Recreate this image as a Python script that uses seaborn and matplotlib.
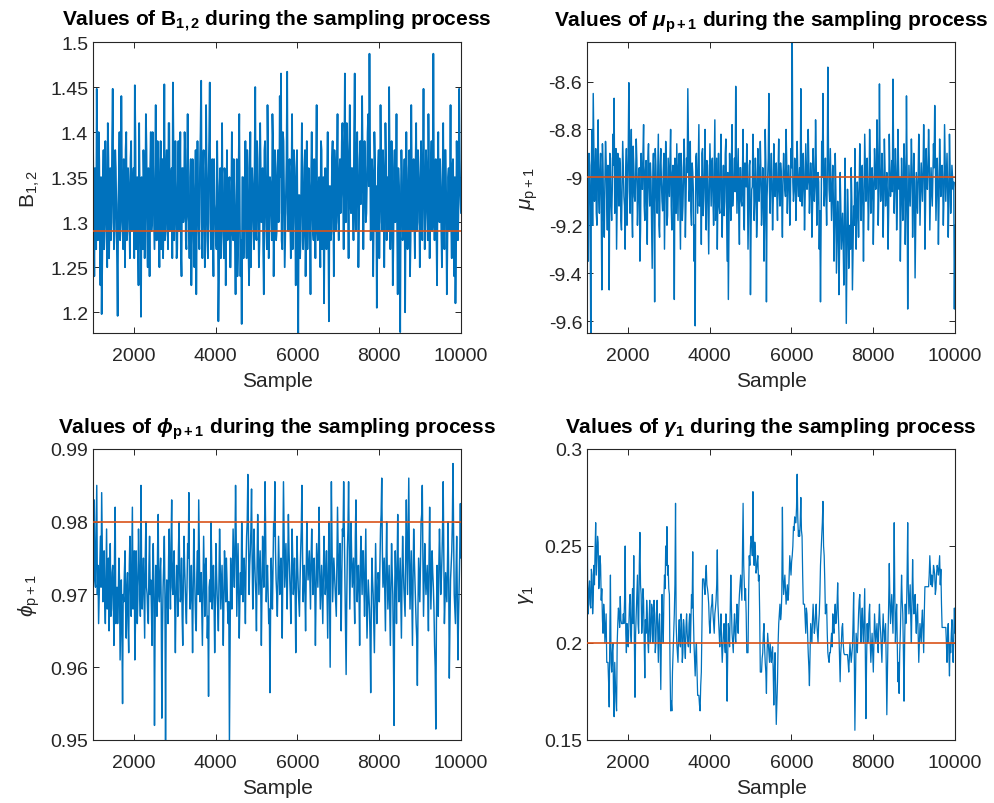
import numpy as np
import pandas as pd
import matplotlib
matplotlib.use("Agg")
import matplotlib.pyplot as plt
import seaborn as sns
from matplotlib.ticker import FuncFormatter

# ---------------- data ----------------
# each trace = main excursions (peaks / troughs) + in-between samples
b12_main = [
    1.38, 1.24, 1.35, 1.448, 1.28, 1.37, 1.23, 1.198, 1.34, 1.27,
    1.39, 1.29, 1.41, 1.26, 1.36, 1.30, 1.448, 1.27, 1.38, 1.31,
    1.196, 1.35, 1.28, 1.44, 1.30, 1.37, 1.25, 1.40, 1.29, 1.34,
    1.26, 1.39, 1.30, 1.36, 1.452, 1.27, 1.35, 1.23, 1.33, 1.195,
    1.31, 1.38, 1.26, 1.42, 1.29, 1.36, 1.24, 1.40, 1.30, 1.35,
    1.27, 1.43, 1.28, 1.37, 1.25, 1.39, 1.31, 1.26, 1.453, 1.29,
    1.38, 1.27, 1.41, 1.30, 1.36, 1.455, 1.28, 1.39, 1.26, 1.34,
    1.29, 1.40, 1.24, 1.36, 1.31, 1.38, 1.27, 1.42, 1.30, 1.35,
    1.23, 1.37, 1.28, 1.33, 1.22, 1.39, 1.29, 1.36, 1.457, 1.26,
    1.38, 1.25, 1.43, 1.30, 1.35, 1.455, 1.27, 1.37, 1.24, 1.32,
    1.28, 1.39, 1.19, 1.34, 1.26, 1.41, 1.29, 1.36, 1.23, 1.38,
    1.30, 1.35, 1.25, 1.40, 1.28, 1.33, 1.22, 1.37, 1.27, 1.42,
    1.24, 1.187, 1.35, 1.29, 1.39, 1.26, 1.36, 1.23, 1.40, 1.30,
    1.34, 1.27, 1.45, 1.28, 1.37, 1.25, 1.41, 1.30, 1.36, 1.22,
    1.39, 1.29, 1.43, 1.26, 1.35, 1.31, 1.42, 1.24, 1.38, 1.28,
    1.36, 1.30, 1.44, 1.465, 1.27, 1.39, 1.25, 1.33, 1.467, 1.29,
    1.37, 1.26, 1.42, 1.30, 1.35, 1.23, 1.38, 1.175, 1.33, 1.28,
    1.41, 1.27, 1.36, 1.24, 1.39, 1.30, 1.34, 1.22, 1.40, 1.29,
    1.37, 1.26, 1.43, 1.28, 1.35, 1.25, 1.38, 1.31, 1.21, 1.36,
    1.27, 1.40, 1.19, 1.34, 1.29, 1.39, 1.24, 1.36, 1.30, 1.42,
    1.28, 1.37, 1.33, 1.41, 1.27, 1.465, 1.30, 1.38, 1.26, 1.43,
    1.31, 1.36, 1.28, 1.465, 1.29, 1.40, 1.25, 1.37, 1.32, 1.44,
    1.27, 1.39, 1.30, 1.35, 1.42, 1.487, 1.28, 1.37, 1.24, 1.40,
    1.29, 1.205, 1.36, 1.26, 1.43, 1.30, 1.38, 1.25, 1.41, 1.28,
    1.35, 1.45, 1.27, 1.39, 1.23, 1.36, 1.30, 1.42, 1.22, 1.34,
    1.178, 1.38, 1.28, 1.33, 1.20, 1.40, 1.27, 1.36, 1.24, 1.43,
    1.29, 1.37, 1.26, 1.41, 1.30, 1.35, 1.25, 1.39, 1.28, 1.448,
    1.27, 1.38, 1.31, 1.42, 1.26, 1.36, 1.29, 1.487, 1.28, 1.37,
    1.23, 1.40, 1.30, 1.34, 1.25, 1.41, 1.27, 1.38, 1.22, 1.35,
    1.29, 1.43, 1.26, 1.37, 1.24, 1.21, 1.39, 1.28, 1.448, 1.33,
]
b12_between = [
    1.31, 1.36, 1.27, 1.33, 1.40, 1.29, 1.35, 1.26, 1.38, 1.30,
    1.34, 1.25, 1.37, 1.31, 1.28, 1.39, 1.33, 1.29, 1.36, 1.26,
    1.32, 1.40, 1.30, 1.35, 1.27, 1.33, 1.38, 1.28, 1.36, 1.31,
    1.37, 1.29, 1.34, 1.26, 1.39, 1.32, 1.28, 1.41, 1.30, 1.35,
    1.27, 1.34, 1.31, 1.38, 1.25, 1.33, 1.36, 1.29, 1.40, 1.31,
    1.35, 1.28, 1.39, 1.30, 1.34, 1.27, 1.37, 1.32, 1.28, 1.36,
    1.30, 1.41, 1.29, 1.35, 1.26, 1.38, 1.31, 1.34, 1.27, 1.39,
    1.33, 1.27, 1.36, 1.30, 1.40, 1.28, 1.35, 1.31, 1.26, 1.37,
    1.29, 1.34, 1.25, 1.38, 1.31, 1.33, 1.27, 1.40, 1.30, 1.36,
    1.32, 1.28, 1.35, 1.26, 1.39, 1.30, 1.34, 1.29, 1.37, 1.31,
    1.27, 1.33, 1.24, 1.36, 1.29, 1.31, 1.26, 1.35, 1.30, 1.28,
    1.34, 1.25, 1.32, 1.29, 1.37, 1.27, 1.31, 1.24, 1.36, 1.30,
    1.28, 1.35, 1.26, 1.33, 1.30, 1.38, 1.27, 1.32, 1.25, 1.36,
    1.30, 1.36, 1.29, 1.39, 1.31, 1.28, 1.35, 1.33, 1.27, 1.38,
    1.32, 1.27, 1.37, 1.30, 1.34, 1.28, 1.39, 1.31, 1.35, 1.29,
    1.38, 1.31, 1.35, 1.28, 1.40, 1.33, 1.29, 1.37, 1.31, 1.36,
    1.30, 1.34, 1.27, 1.38, 1.31, 1.36, 1.29, 1.33, 1.26, 1.35,
    1.33, 1.29, 1.38, 1.31, 1.27, 1.36, 1.30, 1.35, 1.32, 1.28,
    1.31, 1.36, 1.29, 1.34, 1.30, 1.39, 1.27, 1.35, 1.31, 1.33,
    1.35, 1.30, 1.34, 1.28, 1.37, 1.32, 1.38, 1.29, 1.36, 1.31,
    1.35, 1.31, 1.39, 1.33, 1.37, 1.30, 1.41, 1.34, 1.38, 1.32,
    1.36, 1.33, 1.40, 1.31, 1.38, 1.34, 1.30, 1.39, 1.35, 1.37,
    1.33, 1.36, 1.31, 1.40, 1.34, 1.38, 1.32, 1.35, 1.30, 1.37,
    1.34, 1.30, 1.38, 1.32, 1.36, 1.29, 1.35, 1.31, 1.37, 1.33,
    1.29, 1.36, 1.31, 1.34, 1.28, 1.38, 1.33, 1.30, 1.36, 1.27,
    1.32, 1.35, 1.29, 1.37, 1.31, 1.34, 1.30, 1.38, 1.28, 1.35,
    1.33, 1.30, 1.36, 1.29, 1.38, 1.32, 1.35, 1.31, 1.37, 1.34,
    1.31, 1.36, 1.28, 1.35, 1.32, 1.39, 1.30, 1.34, 1.36, 1.29,
    1.35, 1.31, 1.37, 1.29, 1.34, 1.30, 1.38, 1.32, 1.29, 1.36,
    1.33, 1.30, 1.36, 1.31, 1.35, 1.28, 1.34, 1.32, 1.37, 1.31,
]

mu_main = [
    -9.05, -9.35, -8.95, -9.70, -8.80, -8.65, -9.10, -8.88, -9.20, -8.76,
    -9.15, -8.90, -9.47, -8.98, -9.25, -8.85, -9.10, -8.95, -9.47, -8.92,
    -9.18, -8.82, -8.67, -9.05, -9.30, -8.90, -9.12, -8.96, -9.22, -8.85,
    -9.08, -9.30, -8.88, -9.02, -8.605, -9.15, -8.80, -9.25, -8.95, -9.10,
    -8.84, -9.20, -8.98, -9.35, -8.90, -9.05, -8.78, -9.18, -8.93, -9.28,
    -8.86, -9.12, -9.00, -9.38, -8.90, -9.52, -8.95, -9.15, -8.82, -9.25,
    -8.88, -9.10, -8.98, -9.30, -8.85, -9.20, -8.92, -9.08, -8.80, -9.22,
    -8.95, -9.51, -9.00, -8.86, -9.18, -8.90, -9.30, -8.96, -9.12, -8.84,
    -9.25, -8.92, -8.63, -9.10, -8.85, -9.20, -8.98, -9.35, -9.62, -8.90,
    -9.15, -8.78, -9.05, -9.28, -8.88, -9.10, -8.80, -9.22, -8.95, -9.32,
    -8.86, -9.12, -8.92, -9.20, -8.76, -9.05, -9.30, -8.90, -9.15, -8.82,
    -9.25, -8.95, -9.10, -8.84, -9.35, -9.51, -8.90, -9.18, -8.78, -9.05,
    -8.92, -8.62, -9.15, -8.88, -9.28, -8.96, -9.12, -8.80, -9.22, -9.00,
    -8.86, -9.30, -8.95, -9.49, -9.05, -8.82, -9.18, -8.92, -9.25, -8.88,
    -9.10, -8.85, -9.20, -8.96, -9.35, -8.80, -9.52, -9.00, -8.65, -9.15,
    -8.90, -9.22, -8.86, -9.08, -8.94, -9.18, -8.84, -9.12, -8.98, -9.25,
    -8.90, -9.05, -8.80, -9.15, -8.95, -9.20, -8.88, -8.435, -9.10, -8.92,
    -9.18, -8.85, -9.08, -8.96, -8.63, -9.12, -8.90, -9.22, -8.86, -9.05,
    -8.80, -9.15, -8.94, -9.25, -8.88, -9.10, -8.76, -9.20, -8.98, -9.30,
    -9.52, -8.85, -8.65, -9.12, -8.92, -9.20, -8.54, -9.05, -8.88, -9.18,
    -8.95, -9.35, -8.90, -9.40, -9.10, -9.49, -8.98, -9.30, -9.15, -9.45,
    -8.92, -9.61, -9.05, -9.38, -9.20, -8.96, -9.47, -9.12, -8.88, -9.30,
    -9.02, -9.25, -8.86, -9.18, -8.95, -9.35, -8.82, -9.10, -8.92, -9.22,
    -8.80, -9.15, -8.96, -9.28, -8.88, -9.05, -8.76, -9.20, -8.61, -9.10,
    -8.90, -9.25, -8.84, -9.12, -8.98, -9.30, -8.82, -9.08, -8.93, -8.59,
    -9.15, -8.88, -9.22, -8.80, -9.05, -9.35, -8.92, -9.18, -8.86, -9.28,
    -8.66, -9.55, -8.95, -9.12, -8.84, -9.25, -8.90, -9.42, -8.98, -9.15,
    -8.82, -9.20, -8.94, -9.10, -8.78, -9.30, -8.88, -9.05, -8.80, -9.22,
    -8.96, -9.12, -8.86, -8.70, -9.18, -8.92, -9.28, -8.84, -9.08, -8.95,
    -9.20, -8.78, -9.10, -8.90, -9.25, -8.82, -9.15, -8.95, -9.05, -9.55,
]
mu_between = [
    -9.00, -8.90, -9.12, -8.95, -9.20, -8.88, -9.05, -9.15, -8.92, -9.08,
    -8.97, -9.10, -8.86, -9.18, -9.02, -8.93, -9.22, -9.00, -8.90, -9.12,
    -9.05, -8.95, -9.15, -8.88, -9.10, -9.00, -8.92, -9.18, -9.03, -8.96,
    -9.12, -8.98, -9.20, -8.90, -9.06, -8.94, -9.14, -8.87, -9.08, -9.00,
    -8.93, -9.10, -8.96, -9.22, -9.02, -8.90, -9.12, -8.97, -9.16, -8.92,
    -9.04, -8.94, -9.18, -9.00, -9.10, -8.88, -9.08, -8.98, -9.20, -8.95,
    -9.02, -9.14, -8.90, -9.06, -8.96, -9.16, -9.00, -8.92, -9.12, -8.98,
    -9.08, -8.92, -9.15, -9.02, -8.95, -9.10, -8.90, -9.18, -9.00, -8.96,
    -9.10, -8.98, -8.88, -9.05, -9.14, -8.94, -9.06, -9.20, -8.92, -9.02,
    -8.96, -9.12, -9.00, -8.90, -9.16, -8.98, -9.08, -8.93, -9.14, -9.04,
    -9.00, -8.94, -9.10, -8.98, -9.18, -8.92, -9.06, -9.12, -8.96, -9.08,
    -9.04, -9.16, -8.90, -9.08, -8.98, -9.20, -9.02, -8.94, -9.12, -9.00,
    -9.06, -8.92, -9.02, -9.14, -8.96, -9.10, -8.98, -9.18, -8.94, -9.04,
    -9.00, -9.12, -8.93, -9.20, -9.04, -8.95, -9.10, -9.00, -9.16, -8.96,
    -9.02, -8.98, -9.12, -9.00, -9.18, -8.94, -9.08, -8.92, -9.06, -9.00,
    -9.04, -9.10, -8.96, -9.02, -9.08, -8.98, -9.06, -8.94, -9.10, -9.00,
    -8.98, -9.08, -8.94, -9.04, -9.00, -9.10, -8.96, -9.02, -9.06, -8.95,
    -9.06, -8.98, -9.02, -9.10, -8.92, -9.04, -9.00, -9.08, -8.96, -9.02,
    -8.95, -9.06, -9.00, -9.12, -8.98, -9.04, -8.92, -9.10, -9.02, -9.14,
    -9.20, -9.00, -8.96, -9.04, -9.08, -9.00, -8.90, -9.10, -9.02, -9.06,
    -9.10, -9.20, -9.05, -9.25, -9.18, -9.30, -9.12, -9.22, -9.28, -9.15,
    -9.20, -9.35, -9.15, -9.25, -9.30, -9.10, -9.28, -9.20, -9.05, -9.18,
    -9.10, -9.06, -8.98, -9.04, -9.12, -9.08, -8.96, -9.02, -9.06, -9.10,
    -8.94, -9.08, -9.02, -9.12, -8.98, -9.00, -8.92, -9.06, -8.96, -9.04,
    -9.00, -9.10, -8.96, -9.04, -9.08, -9.14, -8.98, -9.02, -9.06, -8.92,
    -9.04, -8.98, -9.10, -8.94, -9.00, -9.16, -9.02, -9.08, -8.96, -9.12,
    -8.98, -9.18, -9.04, -9.00, -8.96, -9.10, -9.02, -9.20, -9.06, -9.00,
    -8.96, -9.08, -9.02, -8.98, -8.94, -9.12, -9.00, -8.96, -8.92, -9.08,
    -9.04, -9.00, -8.96, -8.92, -9.06, -9.02, -9.10, -8.98, -8.96, -9.02,
    -9.08, -8.94, -9.00, -9.04, -9.10, -8.96, -9.06, -9.00, -9.02, -9.20,
]

phi_main = [
    0.968, 0.983, 0.971, 0.985, 0.974, 0.970, 0.978, 0.984, 0.969, 0.976,
    0.966, 0.979, 0.972, 0.965, 0.977, 0.968, 0.974, 0.963, 0.982, 0.970,
    0.966, 0.975, 0.961, 0.972, 0.955, 0.969, 0.976, 0.964, 0.973, 0.962,
    0.978, 0.967, 0.982, 0.970, 0.961, 0.976, 0.966, 0.979, 0.971, 0.985,
    0.968, 0.975, 0.964, 0.980, 0.970, 0.966, 0.978, 0.972, 0.963, 0.977,
    0.952, 0.974, 0.967, 0.981, 0.969, 0.975, 0.953, 0.971, 0.978, 0.950,
    0.972, 0.966, 0.979, 0.968, 0.983, 0.970, 0.976, 0.962, 0.974, 0.967,
    0.980, 0.969, 0.975, 0.963, 0.978, 0.971, 0.966, 0.977, 0.984, 0.968,
    0.974, 0.962, 0.979, 0.970, 0.965, 0.976, 0.983, 0.969, 0.973, 0.963,
    0.978, 0.967, 0.975, 0.964, 0.956, 0.972, 0.980, 0.968, 0.974, 0.962,
    0.977, 0.970, 0.965, 0.979, 0.968, 0.974, 0.963, 0.976, 0.969, 0.972,
    0.966, 0.950, 0.975, 0.968, 0.979, 0.971, 0.985, 0.967, 0.977, 0.964,
    0.973, 0.980, 0.969, 0.975, 0.966, 0.978, 0.9865, 0.970, 0.976, 0.9845,
    0.968, 0.979, 0.972, 0.965, 0.981, 0.970, 0.976, 0.963, 0.978, 0.971,
    0.9855, 0.969, 0.974, 0.966, 0.9565, 0.975, 0.968, 0.980, 0.9855, 0.972,
    0.967, 0.978, 0.970, 0.975, 0.964, 0.9855, 0.971, 0.977, 0.968, 0.981,
    0.973, 0.966, 0.979, 0.970, 0.975, 0.962, 0.978, 0.971, 0.967, 0.976,
    0.985, 0.969, 0.974, 0.965, 0.980, 0.972, 0.976, 0.968, 0.979, 0.970,
    0.975, 0.963, 0.977, 0.971, 0.982, 0.968, 0.974, 0.966, 0.978, 0.970,
    0.976, 0.964, 0.980, 0.960, 0.9855, 0.969, 0.975, 0.971, 0.967, 0.982,
    0.970, 0.977, 0.965, 0.979, 0.9855, 0.972, 0.959, 0.976, 0.9855, 0.968,
    0.980, 0.971, 0.975, 0.966, 0.983, 0.969, 0.974, 0.963, 0.978, 0.970,
    0.976, 0.967, 0.979, 0.964, 0.972, 0.968, 0.9565, 0.975, 0.970, 0.962,
    0.977, 0.966, 0.973, 0.969, 0.979, 0.986, 0.971, 0.975, 0.965, 0.980,
    0.968, 0.974, 0.963, 0.977, 0.970, 0.952, 0.976, 0.966, 0.981, 0.969,
    0.975, 0.964, 0.978, 0.971, 0.967, 0.983, 0.970, 0.986, 0.968, 0.976,
    0.963, 0.979, 0.972, 0.966, 0.9575, 0.975, 0.969, 0.980, 0.985, 0.967,
    0.977, 0.970, 0.974, 0.965, 0.982, 0.968, 0.976, 0.971, 0.963, 0.9515,
    0.974, 0.967, 0.979, 0.970, 0.975, 0.9855, 0.966, 0.973, 0.969, 0.980,
    0.9585, 0.972, 0.976, 0.988, 0.970, 0.966, 0.978, 0.961, 0.971, 0.9825,
]
phi_between = [
    0.975, 0.972, 0.978, 0.970, 0.966, 0.974, 0.971, 0.977, 0.973, 0.969,
    0.972, 0.968, 0.975, 0.970, 0.967, 0.973, 0.969, 0.976, 0.966, 0.971,
    0.969, 0.972, 0.967, 0.965, 0.970, 0.973, 0.968, 0.971, 0.966, 0.974,
    0.971, 0.974, 0.968, 0.976, 0.966, 0.972, 0.970, 0.974, 0.967, 0.973,
    0.972, 0.969, 0.975, 0.971, 0.967, 0.974, 0.970, 0.968, 0.973, 0.970,
    0.966, 0.972, 0.976, 0.970, 0.973, 0.968, 0.965, 0.974, 0.970, 0.968,
    0.970, 0.975, 0.972, 0.977, 0.971, 0.974, 0.968, 0.970, 0.972, 0.976,
    0.973, 0.970, 0.967, 0.972, 0.974, 0.968, 0.972, 0.975, 0.971, 0.970,
    0.969, 0.971, 0.974, 0.966, 0.973, 0.970, 0.976, 0.972, 0.968, 0.971,
    0.972, 0.974, 0.970, 0.967, 0.971, 0.969, 0.975, 0.972, 0.969, 0.968,
    0.973, 0.968, 0.972, 0.974, 0.971, 0.969, 0.970, 0.973, 0.975, 0.968,
    0.969, 0.962, 0.971, 0.973, 0.975, 0.976, 0.978, 0.972, 0.970, 0.969,
    0.970, 0.976, 0.973, 0.971, 0.974, 0.980, 0.978, 0.974, 0.979, 0.975,
    0.973, 0.975, 0.970, 0.974, 0.976, 0.973, 0.971, 0.970, 0.975, 0.977,
    0.978, 0.973, 0.970, 0.968, 0.968, 0.971, 0.974, 0.978, 0.976, 0.970,
    0.972, 0.974, 0.973, 0.971, 0.975, 0.978, 0.974, 0.972, 0.975, 0.976,
    0.970, 0.973, 0.975, 0.972, 0.970, 0.971, 0.974, 0.969, 0.972, 0.979,
    0.976, 0.972, 0.970, 0.973, 0.975, 0.974, 0.972, 0.975, 0.974, 0.973,
    0.971, 0.970, 0.974, 0.976, 0.973, 0.971, 0.970, 0.973, 0.974, 0.972,
    0.970, 0.973, 0.970, 0.975, 0.977, 0.972, 0.973, 0.969, 0.975, 0.976,
    0.974, 0.971, 0.973, 0.978, 0.979, 0.967, 0.969, 0.979, 0.976, 0.974,
    0.975, 0.973, 0.970, 0.978, 0.975, 0.972, 0.970, 0.973, 0.974, 0.976,
    0.971, 0.973, 0.970, 0.968, 0.970, 0.964, 0.968, 0.972, 0.966, 0.970,
    0.971, 0.969, 0.972, 0.974, 0.981, 0.976, 0.973, 0.970, 0.974, 0.973,
    0.971, 0.968, 0.971, 0.973, 0.962, 0.970, 0.972, 0.974, 0.973, 0.972,
    0.969, 0.972, 0.974, 0.969, 0.976, 0.977, 0.978, 0.975, 0.972, 0.970,
    0.972, 0.975, 0.969, 0.964, 0.968, 0.972, 0.974, 0.981, 0.975, 0.972,
    0.973, 0.972, 0.970, 0.975, 0.974, 0.972, 0.973, 0.968, 0.960, 0.966,
    0.970, 0.974, 0.975, 0.972, 0.979, 0.975, 0.969, 0.971, 0.974, 0.972,
    0.966, 0.974, 0.980, 0.978, 0.968, 0.973, 0.970, 0.967, 0.976, 0.975,
]

gamma_main = [
    0.281, 0.215, 0.232, 0.218, 0.235, 0.222, 0.230, 0.262, 0.245, 0.252,
    0.232, 0.240, 0.228, 0.205, 0.215, 0.208, 0.190, 0.190, 0.167, 0.235,
    0.185, 0.200, 0.162, 0.180, 0.165, 0.210, 0.215, 0.224, 0.210, 0.210,
    0.210, 0.250, 0.195, 0.205, 0.210, 0.225, 0.200, 0.228, 0.245, 0.172,
    0.215, 0.235, 0.205, 0.257, 0.225, 0.212, 0.222, 0.182, 0.205, 0.215,
    0.195, 0.222, 0.205, 0.218, 0.210, 0.215, 0.200, 0.222, 0.190, 0.215,
    0.176, 0.225, 0.200, 0.235, 0.250, 0.260, 0.240, 0.225, 0.165, 0.165,
    0.195, 0.215, 0.272, 0.200, 0.190, 0.212, 0.198, 0.210, 0.195, 0.208,
    0.192, 0.215, 0.200, 0.210, 0.195, 0.225, 0.247, 0.200, 0.183, 0.200,
    0.173, 0.173, 0.165, 0.185, 0.233, 0.233, 0.225, 0.240, 0.228, 0.220,
    0.205, 0.218, 0.225, 0.210, 0.215, 0.222, 0.248, 0.212, 0.198, 0.215,
    0.190, 0.205, 0.200, 0.215, 0.170, 0.210, 0.198, 0.235, 0.205, 0.195,
    0.215, 0.200, 0.220, 0.205, 0.225, 0.235, 0.222, 0.272, 0.230, 0.228,
    0.195, 0.195, 0.245, 0.250, 0.252, 0.278, 0.240, 0.248, 0.238, 0.245,
    0.235, 0.185, 0.185, 0.195, 0.210, 0.190, 0.174, 0.205, 0.195, 0.200,
    0.190, 0.198, 0.168, 0.195, 0.158, 0.180, 0.210, 0.220, 0.215, 0.270,
    0.225, 0.235, 0.220, 0.230, 0.225, 0.245, 0.235, 0.245, 0.260, 0.265,
    0.262, 0.287, 0.255, 0.255, 0.275, 0.255, 0.220, 0.220, 0.205, 0.215,
    0.195, 0.178, 0.210, 0.200, 0.220, 0.205, 0.215, 0.210, 0.200, 0.215,
    0.240, 0.255, 0.273, 0.245, 0.215, 0.220, 0.195, 0.190, 0.195, 0.205,
    0.215, 0.205, 0.220, 0.212, 0.231, 0.205, 0.180, 0.200, 0.210, 0.195,
    0.194, 0.194, 0.194, 0.185, 0.200, 0.190, 0.198, 0.226, 0.155, 0.205,
    0.195, 0.215, 0.225, 0.200, 0.218, 0.200, 0.228, 0.161, 0.210, 0.205,
    0.220, 0.190, 0.205, 0.185, 0.215, 0.200, 0.210, 0.195, 0.220, 0.205,
    0.190, 0.215, 0.200, 0.210, 0.163, 0.205, 0.241, 0.210, 0.225, 0.205,
    0.262, 0.200, 0.220, 0.180, 0.174, 0.205, 0.235, 0.215, 0.170, 0.220,
    0.215, 0.262, 0.215, 0.230, 0.200, 0.243, 0.215, 0.225, 0.205, 0.220,
    0.190, 0.210, 0.200, 0.217, 0.195, 0.229, 0.229, 0.229, 0.229, 0.245,
    0.230, 0.229, 0.240, 0.235, 0.228, 0.240, 0.235, 0.245, 0.238, 0.208,
    0.208, 0.208, 0.208, 0.190, 0.210, 0.183, 0.195, 0.212, 0.190, 0.218,
]
gamma_between = [
    0.225, 0.228, 0.220, 0.238, 0.215, 0.240, 0.248, 0.235, 0.255, 0.228,
    0.245, 0.222, 0.212, 0.220, 0.200, 0.215, 0.190, 0.180, 0.205, 0.190,
    0.195, 0.175, 0.190, 0.170, 0.200, 0.218, 0.208, 0.212, 0.210, 0.215,
    0.222, 0.205, 0.210, 0.198, 0.220, 0.205, 0.218, 0.210, 0.200, 0.205,
    0.225, 0.210, 0.240, 0.230, 0.205, 0.228, 0.200, 0.212, 0.222, 0.200,
    0.212, 0.200, 0.220, 0.200, 0.222, 0.195, 0.215, 0.205, 0.210, 0.195,
    0.205, 0.210, 0.222, 0.228, 0.240, 0.235, 0.228, 0.190, 0.170, 0.185,
    0.205, 0.230, 0.210, 0.195, 0.205, 0.200, 0.215, 0.190, 0.212, 0.198,
    0.208, 0.205, 0.198, 0.215, 0.210, 0.218, 0.215, 0.192, 0.195, 0.185,
    0.173, 0.168, 0.178, 0.210, 0.233, 0.228, 0.235, 0.230, 0.225, 0.210,
    0.212, 0.220, 0.215, 0.205, 0.218, 0.230, 0.220, 0.205, 0.208, 0.200,
    0.198, 0.210, 0.195, 0.190, 0.195, 0.205, 0.215, 0.218, 0.200, 0.208,
    0.205, 0.212, 0.210, 0.218, 0.230, 0.228, 0.245, 0.240, 0.222, 0.215,
    0.195, 0.225, 0.240, 0.255, 0.245, 0.250, 0.252, 0.236, 0.242, 0.232,
    0.215, 0.185, 0.192, 0.205, 0.198, 0.185, 0.195, 0.200, 0.190, 0.195,
    0.195, 0.185, 0.188, 0.175, 0.170, 0.200, 0.215, 0.212, 0.225, 0.235,
    0.230, 0.228, 0.225, 0.222, 0.235, 0.240, 0.242, 0.250, 0.258, 0.262,
    0.270, 0.265, 0.258, 0.262, 0.258, 0.235, 0.220, 0.212, 0.218, 0.205,
    0.188, 0.195, 0.205, 0.212, 0.212, 0.208, 0.220, 0.205, 0.210, 0.225,
    0.248, 0.262, 0.250, 0.232, 0.218, 0.205, 0.192, 0.195, 0.200, 0.198,
    0.208, 0.215, 0.210, 0.220, 0.215, 0.192, 0.195, 0.208, 0.200, 0.194,
    0.194, 0.194, 0.190, 0.192, 0.195, 0.194, 0.210, 0.195, 0.180, 0.200,
    0.205, 0.222, 0.210, 0.212, 0.205, 0.215, 0.195, 0.190, 0.200, 0.215,
    0.200, 0.198, 0.195, 0.200, 0.208, 0.205, 0.200, 0.212, 0.210, 0.198,
    0.205, 0.208, 0.205, 0.190, 0.185, 0.220, 0.222, 0.218, 0.215, 0.225,
    0.225, 0.212, 0.200, 0.190, 0.195, 0.220, 0.222, 0.195, 0.200, 0.210,
    0.235, 0.228, 0.222, 0.212, 0.220, 0.225, 0.218, 0.212, 0.215, 0.205,
    0.200, 0.205, 0.212, 0.205, 0.215, 0.229, 0.229, 0.229, 0.235, 0.238,
    0.235, 0.232, 0.238, 0.225, 0.236, 0.238, 0.240, 0.230, 0.220, 0.208,
    0.208, 0.208, 0.200, 0.205, 0.195, 0.200, 0.205, 0.198, 0.205, 0.205,
]

true_values = [1.29, -9.0, 0.98, 0.20]
titles = [
    r"Values of $\mathbf{B_{1,2}}$ during the sampling process",
    r"Values of $\boldsymbol{\mu}_{\mathbf{p+1}}$ during the sampling process",
    r"Values of $\boldsymbol{\phi}_{\mathbf{p+1}}$ during the sampling process",
    r"Values of $\boldsymbol{\gamma}_{\mathbf{1}}$ during the sampling process",
]
ylabels = [r"$\mathrm{B_{1,2}}$", r"$\mu_{\mathrm{p+1}}$", r"$\phi_{\mathrm{p+1}}$", r"$\gamma_{\mathrm{1}}$"]
xlabel = "Sample"
ylims = [(1.177, 1.5), (-9.65, -8.435), (0.95, 0.99), (0.15, 0.30)]
yticks = [
    [1.2, 1.25, 1.3, 1.35, 1.4, 1.45, 1.5],
    [-9.6, -9.4, -9.2, -9.0, -8.8, -8.6],
    [0.95, 0.96, 0.97, 0.98, 0.99],
    [0.15, 0.2, 0.25, 0.3],
]
xticks = [2000, 4000, 6000, 8000, 10000]
sample_range = (1001, 10000)


def interleave(a, b):
    return [v for pair in zip(a, b) for v in pair]


series = [
    interleave(b12_main, b12_between),
    interleave(mu_main, mu_between),
    interleave(phi_main, phi_between),
    interleave(gamma_main, gamma_between),
]

# ---------------- style ----------------
sns.set_theme(style="ticks")
plt.rcParams["font.family"] = ["Liberation Sans", "DejaVu Sans"]
plt.rcParams["mathtext.fontset"] = "custom"
plt.rcParams["mathtext.rm"] = "Liberation Sans"
plt.rcParams["mathtext.it"] = "Liberation Sans:italic"
plt.rcParams["mathtext.bf"] = "Liberation Sans:bold"
plt.rcParams["mathtext.bfit"] = "Liberation Sans:bold:italic"
plt.rcParams["axes.unicode_minus"] = False

BLUE = "#0072BD"
ORANGE = "#D95319"
DARK = "#262626"

fig = plt.figure(figsize=(9.95, 8.04), dpi=100)
positions = [
    [0.0935, 0.5846, 0.3698, 0.3619],
    [0.5900, 0.5846, 0.3698, 0.3619],
    [0.0935, 0.0784, 0.3698, 0.3619],
    [0.5900, 0.0784, 0.3698, 0.3619],
]
line_widths = [1.3, 1.05, 1.05, 0.9]

fmt = FuncFormatter(lambda v, p: "%g" % round(v, 4))

for k in range(4):
    ax = fig.add_axes(positions[k])
    vals = series[k]
    df = pd.DataFrame({"Sample": np.linspace(sample_range[0], sample_range[1], len(vals)),
                       "value": vals})
    sns.lineplot(data=df, x="Sample", y="value", ax=ax, color=BLUE, lw=line_widths[k],
                 estimator=None, sort=False)
    ax.axhline(true_values[k], color=ORANGE, lw=1.2, zorder=5)
    ax.set_xlim(1000, 10000)
    ax.set_ylim(*ylims[k])
    ax.set_xticks(xticks)
    ax.set_yticks(yticks[k])
    ax.yaxis.set_major_formatter(fmt)
    ax.tick_params(direction="in", length=4, width=0.7, colors=DARK, labelsize=14,
                   top=True, right=True)
    ax.tick_params(axis="x", pad=10)
    ax.tick_params(axis="y", pad=3.5)
    for s in ax.spines.values():
        s.set_visible(True)
        s.set_color(DARK)
        s.set_linewidth(0.8)
    ax.set_xlabel(xlabel, fontsize=15, color=DARK, labelpad=5)
    ax.set_ylabel(ylabels[k], fontsize=15, color=DARK, labelpad=6)
    ax.set_title(titles[k], fontsize=15, fontweight="bold", color="black", pad=12)

fig.savefig("out.png", dpi=100)
